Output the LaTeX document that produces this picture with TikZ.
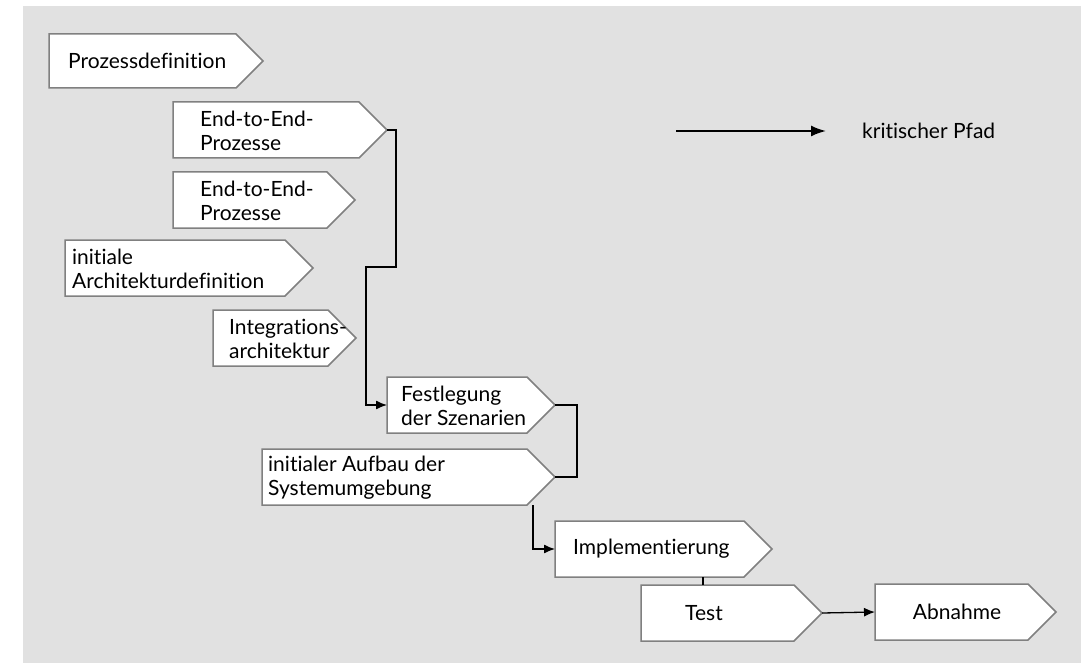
\documentclass[tikz,border=0pt]{standalone}
\usepackage{fontspec}
\setmainfont[Ligatures={NoCommon}]{Lato}
\usetikzlibrary{shapes.symbols,arrows.meta}
\definecolor{bggray}{HTML}{E1E1E1}
\definecolor{boxgray}{HTML}{808080}
\begin{document}
\begin{tikzpicture}[x=1pt,y=-1pt,
  pbox/.style={shape=signal, signal to=east, signal pointer angle=90, draw=boxgray, line width=1.5pt, fill=white, minimum height=56pt, inner sep=0pt, outer sep=0pt, anchor=west},
  lbl/.style={anchor=west, align=left, inner sep=0pt, font=\fontsize{21}{24}\selectfont},
  clbl/.style={anchor=center, align=center, inner sep=0pt, font=\fontsize{21}{24}\selectfont},
  conn/.style={line width=1.3pt, black},
  arr/.style={conn, -{Latex[length=11pt,width=9pt]}},
  legarr/.style={line width=2pt, black, -{Latex[length=15pt,width=11pt]}}]
\useasboundingbox (0,0) rectangle (1081,663);
\fill[bggray] (23,6) rectangle (1081,663);
% boxes
\node[pbox, minimum width=214pt, minimum height=54pt] (P) at (49,61) {};
\node[pbox, minimum width=214pt] (E1) at (173,130) {};
\node[pbox, minimum width=182pt] (E2) at (173,200) {};
\node[pbox, minimum width=248pt] (I1) at (65,268) {};
\node[pbox, minimum width=143pt] (Int) at (213,338) {};
\node[pbox, minimum width=168pt] (F) at (387,405) {};
\node[pbox, minimum width=293pt] (A) at (262,477) {};
\node[pbox, minimum width=217pt] (Impl) at (555,549) {};
\node[pbox, minimum width=181pt] (T) at (641,613) {};
\node[pbox, minimum width=181pt] (Ab) at (875,612) {};
% labels
\node[lbl] (tP) at (68,61) {Prozessdefinition};
\node[lbl] (tE1) at (200,131) {End-to-End-\\Prozesse};
\node[lbl] (tE2) at (200,201) {End-to-End-\\Prozesse};
\node[lbl] (tI1) at (72,269) {initiale\\Architekturdefinition};
\node[lbl] (tInt) at (229,339) {Integrations-\\architektur};
\node[lbl] (tF) at (401,406) {Festlegung\\der Szenarien};
\node[lbl] (tA) at (268,478) {initialer Aufbau der\\Systemumgebung};
\node[lbl] (tImpl) at (573,549) {Implementierung};
\node[clbl] (tT) at (704,613) {Test};
\node[clbl] (tAb) at (957,612) {Abnahme};
% connectors
\coordinate (k1) at (396,130);
\coordinate (k2) at (396,267);
\coordinate (k3) at (366,267);
\coordinate (k4) at (577,405);
\coordinate (aout) at (533,505);
\coordinate (iout) at (703,577);
\draw[arr] (E1.east) -- (k1) -- (k2) -- (k3) |- (F.west);
\draw[conn] (F.east) -- (k4) |- (A.east);
\draw[arr] (aout) |- (Impl.west);
\draw[conn] (iout) -- (iout |- T.north);
\draw[arr] (T.east) -- (Ab.west);
% legend
\coordinate (l1) at (676,131);
\coordinate (l2) at (826,131);
\draw[legarr] (l1) -- (l2);
\node[lbl] (leg) at (862,131) {kritischer Pfad};
\end{tikzpicture}
\end{document}
